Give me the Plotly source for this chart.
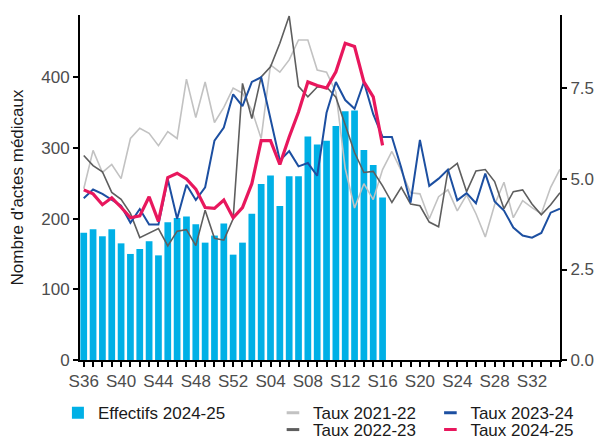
import plotly.graph_objects as go

weeks = ["S36", "S37", "S38", "S39", "S40", "S41", "S42", "S43", "S44", "S45", "S46", "S47",
         "S48", "S49", "S50", "S51", "S52", "S01", "S02", "S03", "S04", "S05", "S06", "S07",
         "S08", "S09", "S10", "S11", "S12", "S13", "S14", "S15", "S16", "S17", "S18", "S19",
         "S20", "S21", "S22", "S23", "S24", "S25", "S26", "S27", "S28", "S29", "S30", "S31",
         "S32", "S33", "S34", "S35"]
tick_labels = ["S36", "S40", "S44", "S48", "S52", "S04", "S08", "S12", "S16", "S20", "S24", "S28", "S32"]

effectifs_2024_25 = [180, 185, 175, 185, 165, 150, 157, 168, 148, 195, 201, 203,
                     192, 166, 176, 193, 149, 166, 207, 249, 261, 218, 260, 260,
                     316, 305, 310, 331, 352, 353, 297, 276, 230]

taux_2021_22 = [4.73, 5.79, 5.18, 5.40, 5.01, 6.12, 6.40, 6.26, 5.92, 6.31, 6.12, 7.76,
                6.70, 7.68, 6.56, 6.98, 7.51, 7.37, 6.90, 6.12, 8.15, 7.95, 8.29, 8.84,
                8.84, 8.01, 7.95, 7.40, 5.29, 4.20, 4.87, 4.43, 5.26, 5.76, 5.23, 4.62,
                4.59, 3.90, 4.51, 4.70, 4.12, 4.56, 4.04, 3.40, 4.29, 4.91, 3.93, 4.40,
                4.21, 4.04, 4.77, 5.27]
taux_2022_23 = [5.65, 5.37, 5.20, 4.63, 4.44, 4.05, 3.38, 3.50, 3.63, 3.15, 3.56, 3.60,
                3.16, 4.14, 3.36, 3.31, 3.90, 7.64, 6.67, 7.82, 8.10, 8.75, 9.50, 7.56,
                7.27, 7.54, 7.54, 7.26, 6.48, 5.73, 5.18, 5.21, 4.81, 4.35, 4.77, 4.31,
                4.26, 3.81, 3.68, 5.23, 5.43, 4.65, 5.22, 5.26, 4.93, 4.18, 4.65, 4.70,
                4.31, 4.01, 4.29, 4.62]
taux_2023_24 = [4.47, 4.71, 4.59, 4.43, 4.26, 3.79, 4.17, 3.74, 3.74, 4.99, 3.90, 4.84,
                4.42, 4.77, 6.06, 6.42, 7.34, 7.01, 7.68, 7.81, 6.67, 5.51, 5.77, 5.35,
                5.44, 5.09, 6.83, 7.68, 7.18, 6.94, 7.68, 6.79, 6.16, 6.16, 5.31, 4.35,
                6.08, 4.81, 5.01, 5.26, 4.41, 4.61, 4.33, 5.15, 4.38, 4.13, 3.66, 3.44,
                3.38, 3.51, 4.07, 4.18]
taux_2024_25 = [4.70, 4.59, 4.29, 4.48, 4.22, 3.93, 3.98, 4.51, 3.83, 5.04, 5.16, 5.00,
                4.72, 4.21, 4.19, 4.42, 3.93, 4.21, 4.87, 6.06, 6.06, 5.40, 6.16, 6.85,
                7.68, 7.58, 7.51, 7.96, 8.75, 8.66, 7.68, 7.27, 5.93]

FONT = "Liberation Sans, Arial, sans-serif"
C_BAR = "#00B0E6"
C_2122 = "#C2C2C2"
C_2223 = "#5E5E5E"
C_2324 = "#1C4FA1"
C_2425 = "#E8175D"

fig = go.Figure()
fig.add_trace(go.Bar(x=weeks[:len(effectifs_2024_25)], y=effectifs_2024_25,
                     marker=dict(color=C_BAR, line=dict(width=0)),
                     name="Effectifs 2024-25", legend="legend", yaxis="y"))

lines = [
    ("Taux 2021-22", taux_2021_22, C_2122, 1.6, "legend2"),
    ("Taux 2022-23", taux_2022_23, C_2223, 1.6, "legend3"),
    ("Taux 2023-24", taux_2023_24, C_2324, 2.0, "legend4"),
    ("Taux 2024-25", taux_2024_25, C_2425, 3.2, "legend5"),
]
for name, vals, col, w, lg in lines:
    fig.add_trace(go.Scatter(x=weeks[:len(vals)], y=vals, mode="lines", name=name,
                             line=dict(color=col, width=w), yaxis="y2", showlegend=False))
for name, vals, col, w, lg in lines:
    fig.add_trace(go.Scatter(x=[None], y=[None], mode="markers", name=name, legend=lg,
                             marker=dict(symbol="line-ew", size=9, color=col,
                                         line=dict(color=col, width=3)),
                             yaxis="y2", showlegend=True))

leg_common = dict(font=dict(family=FONT, size=17, color="#1a1a1a"), bgcolor="rgba(0,0,0,0)",
                  xanchor="left", yanchor="middle", orientation="v")
row1, row2 = -0.154, -0.203
fig.update_layout(
    width=603, height=437,
    margin=dict(l=72, r=51, t=7, b=85, autoexpand=False),
    paper_bgcolor="white", plot_bgcolor="white",
    font=dict(family=FONT, size=17, color="#4d4d4d"),
    bargap=0.28,
    legend=dict(x=-0.046, y=row1, **leg_common),
    legend2=dict(x=0.402, y=row1, **leg_common),
    legend3=dict(x=0.402, y=row2, **leg_common),
    legend4=dict(x=0.730, y=row1, **leg_common),
    legend5=dict(x=0.730, y=row2, **leg_common),
    xaxis=dict(type="category", categoryorder="array", categoryarray=weeks,
               range=[-0.4, 51.0], showline=True, linecolor="black", linewidth=2,
               ticks="outside", ticklen=5, tickwidth=1.5, tickcolor="black",
               tickmode="array", tickvals=weeks,
               ticktext=[w if w in tick_labels else "" for w in weeks],
               tickfont=dict(family=FONT, size=17, color="#4d4d4d"),
               showgrid=False, zeroline=False),
    yaxis=dict(range=[0, 488], showline=True, linecolor="black", linewidth=2,
               ticks="outside", ticklen=5, tickwidth=1.5, tickcolor="black",
               tickvals=[0, 100, 200, 300, 400],
               tickfont=dict(family=FONT, size=17, color="#4d4d4d"),
               title=dict(text="Nombre d'actes médicaux", standoff=14,
                          font=dict(family=FONT, size=17, color="#1a1a1a")),
               showgrid=False, zeroline=False),
    yaxis2=dict(overlaying="y", side="right", anchor="x", range=[0, 9.53],
                showline=True, linecolor="black", linewidth=2,
                ticks="outside", ticklen=5, tickwidth=1.5, tickcolor="black",
                tickvals=[0, 2.5, 5, 7.5], ticktext=["0.0", "2.5", "5.0", "7.5"],
                tickfont=dict(family=FONT, size=17, color="#4d4d4d"),
                showgrid=False, zeroline=False),
)

fig.write_html("out.html")
